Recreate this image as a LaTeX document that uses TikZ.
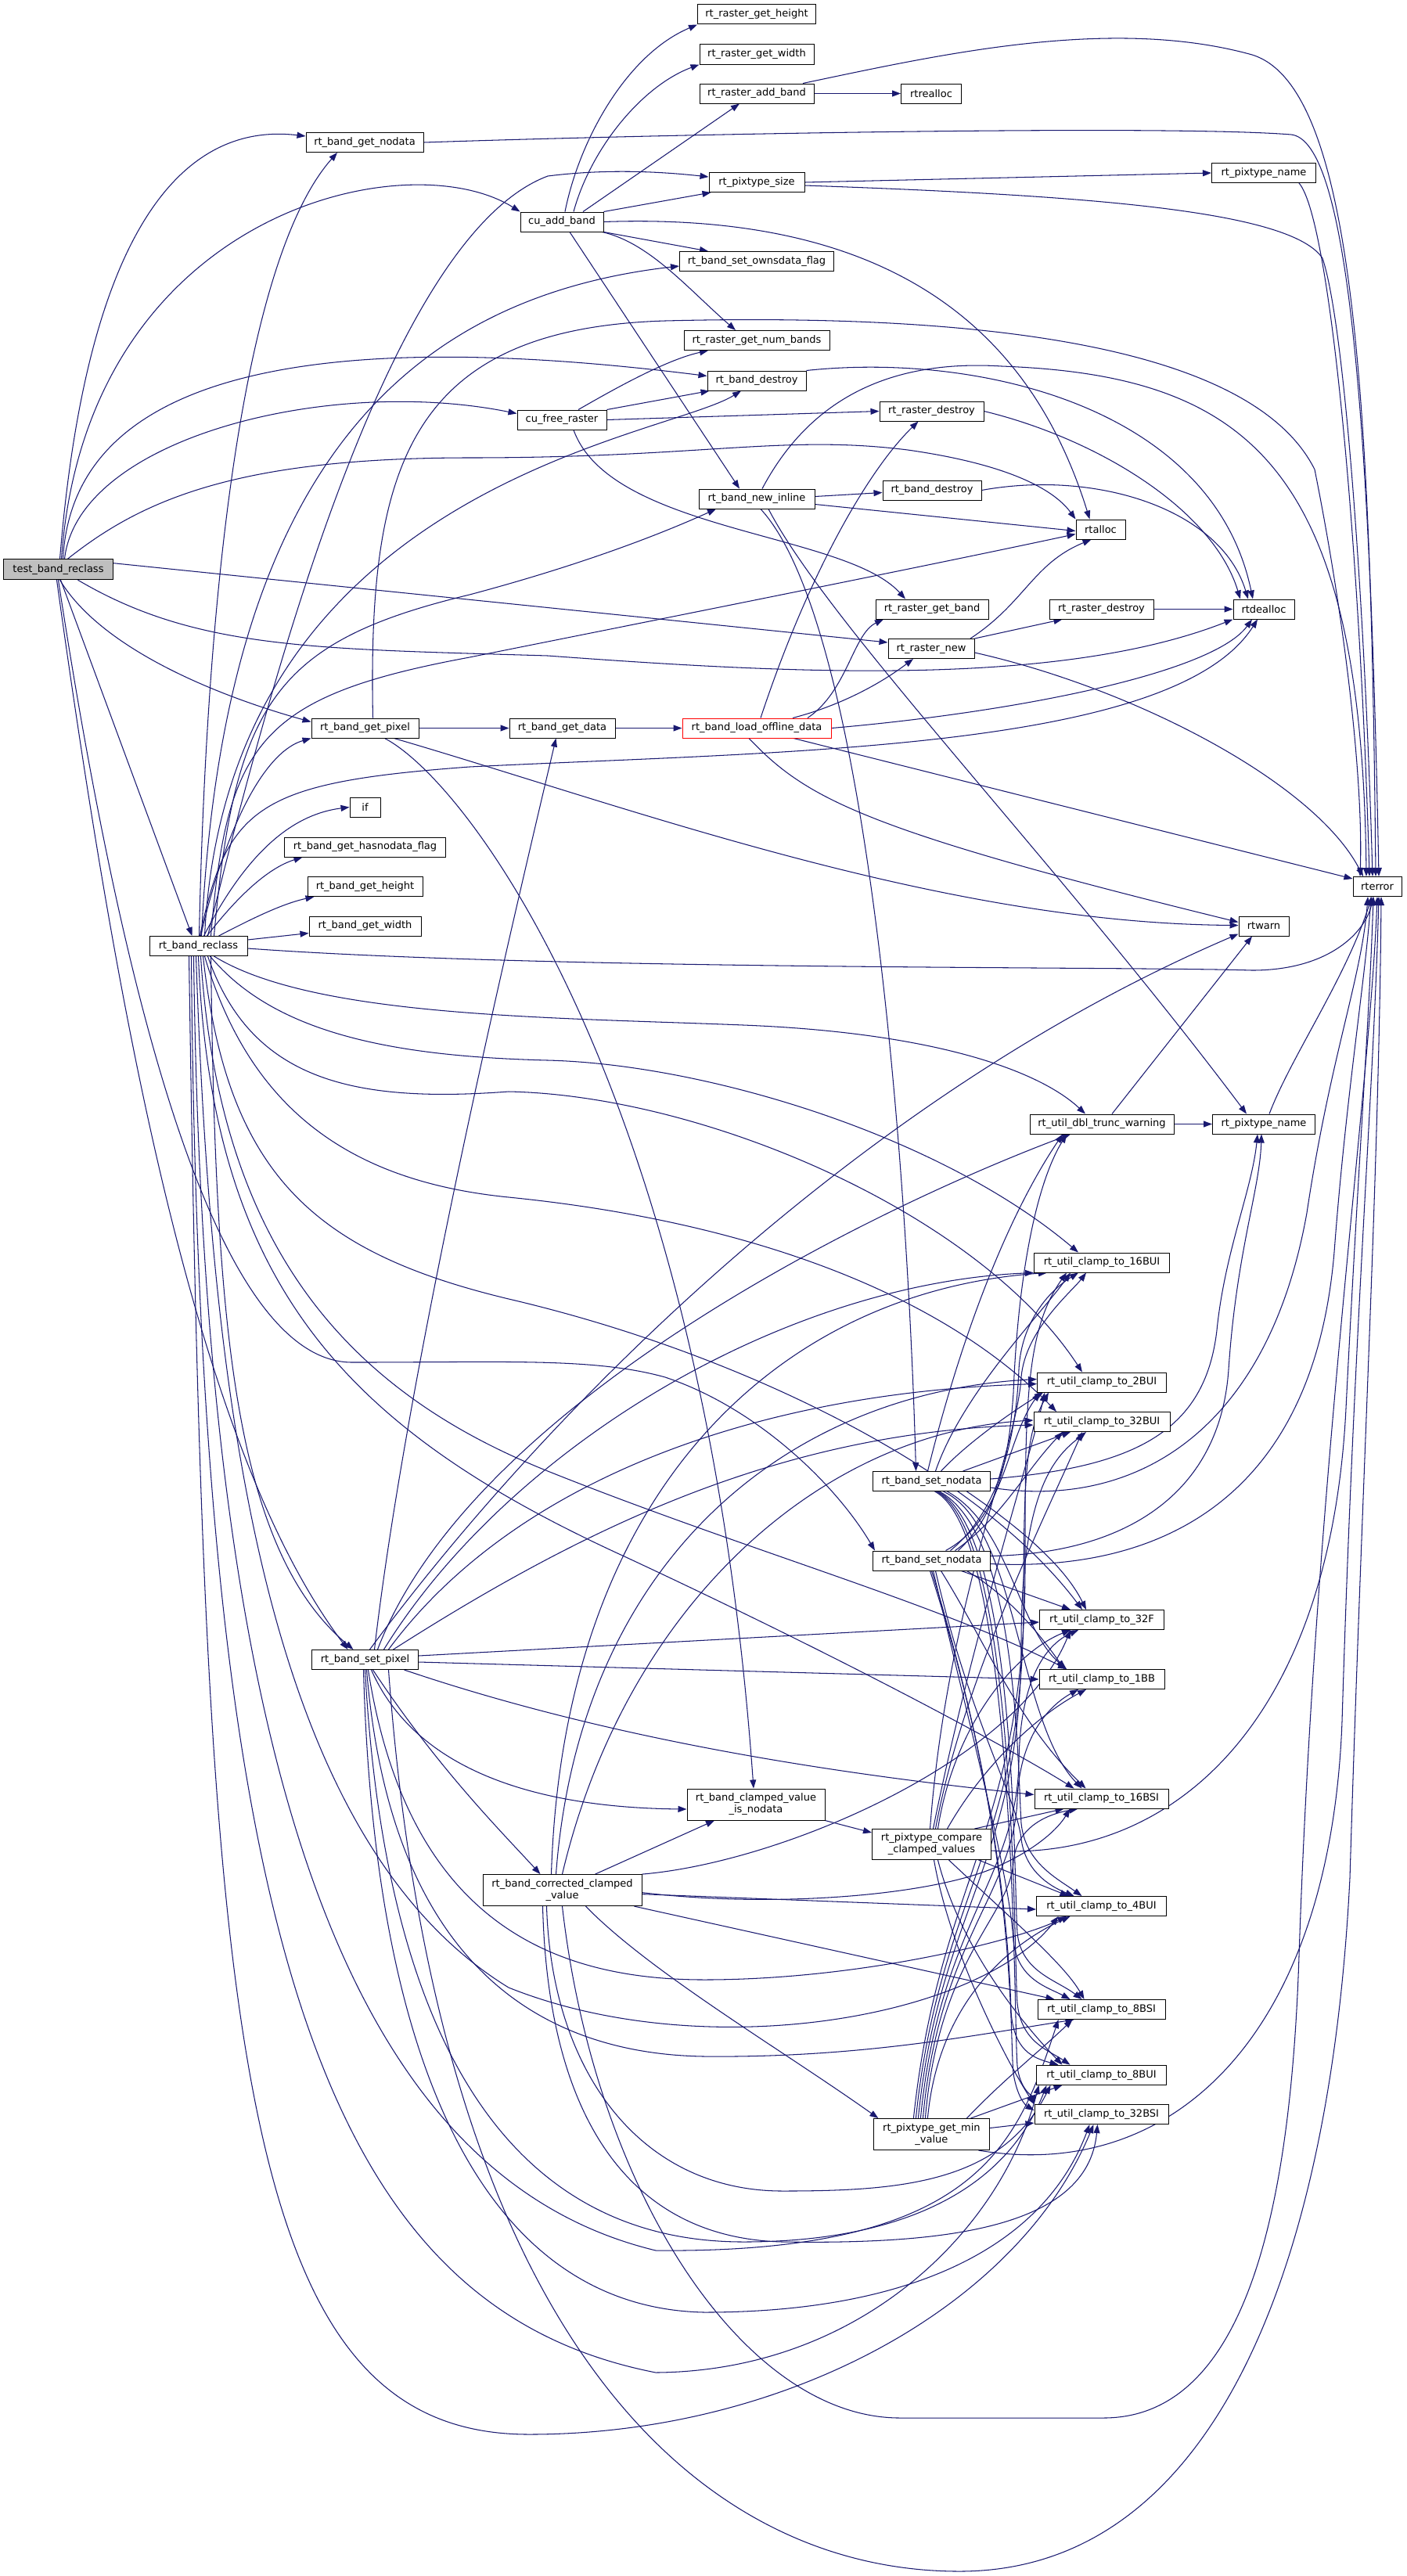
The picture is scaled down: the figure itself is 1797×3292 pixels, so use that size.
\documentclass[tikz,border=0pt]{standalone}
\usepackage{fontspec}
\setmainfont{DejaVu Sans}
\usetikzlibrary{arrows.meta,backgrounds}
\pgfdeclarelayer{bottom}
\pgfsetlayers{bottom,background,main}
\definecolor{edgec}{RGB}{25,25,112}
\definecolor{tgray}{RGB}{191,191,191}
\begin{document}
\begin{tikzpicture}[x=1pt,y=-1pt,
  nd/.style={draw=black, line width=1pt, fill=white, inner sep=0pt, minimum height=25pt,
    font=\fontsize{13pt}{15pt}\selectfont, align=center},
  nd2/.style={nd, minimum height=40pt},
  e/.style={draw=edgec, line width=1.05pt, -{Triangle[length=11pt,width=8pt]}}]
\useasboundingbox (0,0) rectangle (1797,3292);
\begin{pgfonlayer}{bottom}
\fill[white] (0,0) rectangle (1797,3292);
\end{pgfonlayer}
% ---------------- nodes ----------------
\node[nd, minimum width=151pt] (rgh) at (967,18.5) {rt\_raster\_get\_height};
\node[nd, minimum width=146pt] (rgw) at (967,69.5) {rt\_raster\_get\_width};
\node[nd, minimum width=146pt] (rab) at (967,119.5) {rt\_raster\_add\_band};
\node[nd, minimum width=77pt] (rtrealloc) at (1190,119.5) {rtrealloc};
\node[nd, minimum width=150pt] (rbgn) at (466,182) {rt\_band\_get\_nodata};
\node[nd, minimum width=122pt] (rps) at (967,233) {rt\_pixtype\_size};
\node[nd, minimum width=133pt] (rpnA) at (1615,221) {rt\_pixtype\_name};
\node[nd, minimum width=106pt] (cab) at (718,283.5) {cu\_add\_band};
\node[nd, minimum width=197pt] (rbso) at (967,334) {rt\_band\_set\_ownsdata\_flag};
\node[nd, minimum width=186pt] (rgnb) at (967,435) {rt\_raster\_get\_num\_bands};
\node[nd, minimum width=126pt] (rbdA) at (967,486.5) {rt\_band\_destroy};
\node[nd, minimum width=114pt] (cfr) at (718,536.5) {cu\_free\_raster};
\node[nd, minimum width=133pt] (rrdA) at (1190.5,525.5) {rt\_raster\_destroy};
\node[nd, minimum width=148pt] (rbni) at (967,637.5) {rt\_band\_new\_inline};
\node[nd, minimum width=126pt] (rbdB) at (1191,626.5) {rt\_band\_destroy};
\node[nd, minimum width=63pt] (rtalloc) at (1406.5,676.5) {rtalloc};
\node[nd, minimum width=140pt, minimum height=26pt, fill=tgray] (T) at (74.5,727.7) {test\_band\_reclass};
\node[nd, minimum width=144pt] (rrgb) at (1191,778.5) {rt\_raster\_get\_band};
\node[nd, minimum width=133pt] (rrdB) at (1407.5,778.5) {rt\_raster\_destroy};
\node[nd, minimum width=78pt] (rtdealloc) at (1615,778.5) {rtdealloc};
\node[nd, minimum width=110pt] (rrn) at (1190,829) {rt\_raster\_new};
\node[nd, minimum width=137pt] (rbgp) at (466.5,930.5) {rt\_band\_get\_pixel};
\node[nd, minimum width=135pt] (rbgd) at (718.5,930.5) {rt\_band\_get\_data};
\node[nd, minimum width=190pt, draw=red] (rblod) at (967,930.5) {rt\_band\_load\_offline\_data};
\node[nd, minimum width=39pt] (iff) at (466.5,1031.5) {if};
\node[nd, minimum width=206pt] (rbhf) at (466.5,1082.5) {rt\_band\_get\_hasnodata\_flag};
\node[nd, minimum width=147pt] (rbgh) at (466.5,1133) {rt\_band\_get\_height};
\node[nd, minimum width=143pt] (rbgw) at (466.5,1183.5) {rt\_band\_get\_width};
\node[nd, minimum width=125pt] (rbr) at (253.5,1209) {rt\_band\_reclass};
\node[nd, minimum width=62pt] (rterror) at (1760,1133) {rterror};
\node[nd, minimum width=64pt] (rtwarn) at (1615,1183.5) {rtwarn};
\node[nd, minimum width=184pt] (rudtw) at (1408,1436.5) {rt\_util\_dbl\_trunc\_warning};
\node[nd, minimum width=131pt] (rpnB) at (1615,1436.5) {rt\_pixtype\_name};
\node[nd, minimum width=173pt] (c16BUI) at (1408,1613.5) {rt\_util\_clamp\_to\_16BUI};
\node[nd, minimum width=165pt] (c2BUI) at (1408,1766.5) {rt\_util\_clamp\_to\_2BUI};
\node[nd, minimum width=174pt] (c32BUI) at (1408,1817) {rt\_util\_clamp\_to\_32BUI};
\node[nd, minimum width=150pt] (rbsnA) at (1190.5,1893) {rt\_band\_set\_nodata};
\node[nd, minimum width=150pt] (rbsnB) at (1190.5,1994.5) {rt\_band\_set\_nodata};
\node[nd, minimum width=159pt] (c32F) at (1408,2070) {rt\_util\_clamp\_to\_32F};
\node[nd, minimum width=160pt] (c1BB) at (1408,2146) {rt\_util\_clamp\_to\_1BB};
\node[nd, minimum width=136pt] (rbsp) at (466.5,2121) {rt\_band\_set\_pixel};
\node[nd, minimum width=171pt] (c16BSI) at (1407.5,2298.5) {rt\_util\_clamp\_to\_16BSI};
\node[nd2, minimum width=176pt] (rbcvn) at (966,2306) {rt\_band\_clamped\_value\\\_is\_nodata};
\node[nd2, minimum width=152pt, minimum height=39pt] (rpcc) at (1190.5,2357) {rt\_pixtype\_compare\\\_clamped\_values};
\node[nd2, minimum width=203pt] (rbccv) at (718.5,2415.6) {rt\_band\_corrected\_clamped\\\_value};
\node[nd, minimum width=166pt] (c4BUI) at (1407.5,2436) {rt\_util\_clamp\_to\_4BUI};
\node[nd, minimum width=163pt] (c8BSI) at (1407.5,2568) {rt\_util\_clamp\_to\_8BSI};
\node[nd, minimum width=166pt] (c8BUI) at (1407.5,2651.7) {rt\_util\_clamp\_to\_8BUI};
\node[nd, minimum width=171pt] (c32BSI) at (1407.5,2702) {rt\_util\_clamp\_to\_32BSI};
\node[nd2, minimum width=148pt] (rpgmv) at (1190.4,2727.5) {rt\_pixtype\_get\_min\\\_value};
% ---------------- edges ----------------
\begin{pgfonlayer}{background}
% test_band_reclass
\draw[e] ([xshift=2pt]T.north) .. controls (110,300) and (230,155) .. ([yshift=8pt]rbgn.west);
\draw[e] ([xshift=4pt]T.north) .. controls (110,270) and (520,180) .. (cab.north west);
\draw[e] ([xshift=6pt]T.north) .. controls (95,440) and (500,430) .. ([yshift=6pt]rbdA.west);
\draw[e] ([xshift=8pt]T.north) .. controls (100,560) and (420,480) .. ([yshift=8pt]cfr.west);
\draw[e] ([xshift=12pt]T.north) .. controls (180,640) and (300,585) .. (600,585) .. controls (900,585) and (1000,555) .. (1160,575) .. controls (1300,595) and (1350,630) .. (rtalloc.north west);
\draw[e] ([yshift=8pt]T.east) -- ([yshift=8pt]rrn.west);
\draw[e] ([xshift=25pt]T.south) .. controls (250,830) and (400,829) .. (700,838) .. controls (1000,860) and (1350,880) .. (rtdealloc.south west);
\draw[e] ([xshift=2pt]T.south) .. controls (130,830) and (280,890) .. ([yshift=8pt]rbgp.west);
\draw[e] ([xshift=3pt]T.south) -- ([xshift=-8pt]rbr.north);
\draw[e] ([xshift=-2pt]T.south) .. controls (150,1300) and (250,1850) .. ([xshift=-22pt]rbsp.north);
\draw[e] (T.south) .. controls (160,1300) and (280,1741) .. (450,1741) .. controls (650,1741) and (760,1735) .. (850,1760) .. controls (970,1800) and (1070,1900) .. ([xshift=3pt]rbsnB.north west);
% cu_add_band
\draw[e] ([xshift=4pt]cab.north) .. controls (740,180) and (800,70) .. (rgh.south west);
\draw[e] ([xshift=15pt]cab.north) .. controls (755,190) and (820,110) .. (rgw.south west);
\draw[e] ([xshift=27pt]cab.north) -- ([xshift=-22pt]rab.south);
\draw[e] (cab.north east) -- ([xshift=3pt]rps.south west);
\draw[e] (cab.east) .. controls (1150,270) and (1320,430) .. ([xshift=-14pt]rtalloc.north);
\draw[e] (cab.south east) -- ([xshift=-62pt]rbso.north);
\draw[e] ([xshift=-2pt]cab.south east) .. controls (830,310) and (880,370) .. ([xshift=-27pt]rgnb.north);
\draw[e] ([xshift=10pt]cab.south) -- ([xshift=-22pt]rbni.north);
\draw[e] (rab.east) -- (rtrealloc.west);
\draw[e] ([xshift=59pt]rab.north) .. controls (1200,70) and (1420,20) .. (1600,70) .. controls (1730,110) and (1752,500) .. ([xshift=-2pt]rterror.north);
\draw[e] (rbgn.east) .. controls (900,170) and (1500,160) .. (1650,172) .. controls (1720,180) and (1750,500) .. ([xshift=2pt]rterror.north);
\draw[e] (rps.east) -- (rpnA.west);
\draw[e] ([yshift=-4pt]rps.east) .. controls (1400,250) and (1650,270) .. (1690,330) .. controls (1720,420) and (1745,800) .. ([xshift=-6pt]rterror.north);
\draw[e] ([xshift=45pt]rpnA.south) .. controls (1700,280) and (1738,700) .. ([xshift=-10pt]rterror.north);
% cu_free_raster
\draw[e] ([xshift=21pt]cfr.north) .. controls (780,500) and (850,460) .. ([xshift=-62pt]rgnb.south);
\draw[e] (cfr.north east) -- ([xshift=3pt]rbdA.south west);
\draw[e] (cfr.east) -- (rrdA.west);
\draw[e] ([xshift=15pt]cfr.south) .. controls (780,680) and (1080,680) .. ([xshift=-34pt]rrgb.north);
% destroys
\draw[e] (rbdA.north east) .. controls (1250,450) and (1550,520) .. ([xshift=-14pt]rtdealloc.north);
\draw[e] (rbdB.east) .. controls (1400,600) and (1560,650) .. ([xshift=-20pt]rtdealloc.north);
\draw[e] (rrdA.east) .. controls (1400,560) and (1550,650) .. ([xshift=-30pt]rtdealloc.north);
\draw[e] (rrdB.east) -- (rtdealloc.west);
% rt_band_new_inline
\draw[e] ([xshift=7pt]rbni.north) .. controls (1040,500) and (1150,460) .. (1280,468) .. controls (1600,480) and (1740,600) .. ([xshift=-14pt]rterror.north);
\draw[e] ([yshift=3pt]rbni.east) -- ([yshift=-3pt]rbdB.west);
\draw[e] ([yshift=-7pt]rbni.east) -- ([yshift=-2pt]rtalloc.west);
\draw[e] ([xshift=15pt]rbni.south) .. controls (1060,800) and (1350,1100) .. ([xshift=-22pt]rpnB.north);
\draw[e] ([xshift=5pt]rbni.south) .. controls (1110,800) and (1160,1500) .. ([xshift=-20pt]rbsnA.north);
% rt_raster_new
\draw[e] ([xshift=50pt]rrn.north) .. controls (1310,770) and (1320,720) .. ([xshift=-12pt]rtalloc.south);
\draw[e] (rrn.north east) -- ([xshift=-50pt]rrdB.south);
\draw[e] ([yshift=-5pt]rrn.east) .. controls (1450,880) and (1680,1000) .. ([xshift=-18pt]rterror.north);
% rt_band_get_pixel, get_data, load_offline
\draw[e] (rbgp.east) -- (rbgd.west);
\draw[e] (rbgd.east) -- (rblod.west);
\draw[e] ([xshift=37pt]rbgp.south) .. controls (800,1030) and (1200,1180) .. ([yshift=1pt]rtwarn.west);
\draw[e] ([xshift=10pt]rbgp.north) .. controls (470,600) and (520,420) .. (850,410) .. controls (1250,400) and (1600,440) .. (1680,600) .. controls (1720,800) and (1742,1000) .. ([xshift=-22pt]rterror.north);
\draw[e] ([xshift=25pt]rbgp.south) .. controls (600,1000) and (900,1400) .. ([xshift=-3pt]rbcvn.north);
\draw[e] ([xshift=5pt]rblod.north) .. controls (1033,733) and (1110,600) .. ([xshift=-17pt]rrdA.south);
\draw[e] ([xshift=65pt]rblod.north) .. controls (1083,883) and (1090,810) .. ([xshift=-62pt]rrgb.south);
\draw[e] ([xshift=46pt]rblod.north) .. controls (1080,900) and (1130,870) .. ([xshift=-23pt]rrn.south);
\draw[e] (rblod.east) .. controls (1300,910) and (1550,860) .. ([xshift=-15pt]rtdealloc.south);
\draw[e] ([xshift=47pt]rblod.south) -- ([yshift=10pt]rterror.west);
\draw[e] ([xshift=-10pt]rblod.south) .. controls (1030,1020) and (1100,1060) .. ([yshift=5pt]rtwarn.west);
% rt_band_reclass (upwards)
\draw[e] ([xshift=1pt]rbr.north) .. controls (265,700) and (320,320) .. ([xshift=-35pt]rbgn.south);
\draw[e] ([xshift=4pt]rbr.north) .. controls (285,600) and (520,380) .. ([yshift=-6pt]rbso.west);
\draw[e] ([xshift=8pt]rbr.north) .. controls (290,620) and (850,560) .. ([xshift=-20pt]rbdA.south);
\draw[e] ([xshift=12pt]rbr.north) .. controls (350,850) and (500,300) .. (700,225) .. controls (780,215) and (850,220) .. ([yshift=7pt]rps.west);
\draw[e] ([xshift=16pt]rbr.north) .. controls (290,950) and (330,890) .. (600,840) .. controls (900,780) and (1200,720) .. ([yshift=-6pt]rtalloc.west);
\draw[e] ([xshift=20pt]rbr.north) .. controls (300,900) and (350,820) .. (600,760) .. controls (750,720) and (850,680) .. ([xshift=-52pt]rbni.south);
\draw[e] ([xshift=3pt]rbr.north) .. controls (290,1050) and (340,960) .. (rbgp.south west);
\draw[e] ([xshift=7pt]rbr.north) .. controls (320,1080) and (380,1040) .. (iff.west);
\draw[e] ([xshift=11pt]rbr.north) .. controls (300,1150) and (340,1110) .. ([xshift=-80pt]rbhf.south);
\draw[e] ([xshift=26pt]rbr.north) .. controls (320,1175) and (360,1155) .. ([xshift=-65pt]rbgh.south);
\draw[e] ([yshift=8pt]rbr.east) -- ([yshift=-9pt]rbgw.west);
\draw[e] ([xshift=2pt]rbr.north) .. controls (290,1030) and (330,1000) .. (600,980) .. controls (1000,960) and (1500,960) .. ([xshift=-8pt]rtdealloc.south);
\draw[e] ([yshift=-3pt]rbr.east) .. controls (700,1240) and (1450,1235) .. (1600,1240) .. controls (1700,1240) and (1745,1190) .. ([xshift=-5pt]rterror.south);
% rt_band_reclass (right / down)
\draw[e] ([xshift=20pt]rbr.south) .. controls (400,1300) and (700,1300) .. (950,1310) .. controls (1200,1320) and (1330,1370) .. ([xshift=-21pt]rudtw.north);
\draw[e] ([xshift=15pt]rbr.south) .. controls (350,1320) and (500,1350) .. (700,1355) .. controls (900,1360) and (1200,1450) .. ([xshift=-30pt]c16BUI.north);
\draw[e] ([xshift=12pt]rbr.south) .. controls (320,1380) and (450,1410) .. (650,1395) .. controls (900,1400) and (1250,1550) .. ([xshift=-25pt]c2BUI.north);
\draw[e] ([xshift=8pt]rbr.south) .. controls (320,1420) and (450,1510) .. (650,1530) .. controls (950,1560) and (1200,1650) .. ([xshift=-58pt]c32BUI.north);
\draw[e] ([xshift=6pt]rbr.south) .. controls (290,1500) and (400,1600) .. (650,1660) .. controls (950,1730) and (1250,1880) .. ([xshift=-25pt]c32F.north);
\draw[e] ([xshift=3pt]rbr.south) .. controls (280,1600) and (450,1780) .. (700,1880) .. controls (950,1980) and (1200,2050) .. ([xshift=-45pt]c1BB.north);
\draw[e] (rbr.south) .. controls (270,1650) and (450,1830) .. (800,1990) .. controls (1100,2130) and (1300,2240) .. ([xshift=-35pt]c16BSI.north);
\draw[e] ([xshift=16pt]rbr.south) .. controls (275,1700) and (300,1980) .. ([xshift=-15pt]rbsp.north);
\draw[e] ([xshift=-3pt]rbr.south) .. controls (270,1800) and (340,2350) .. (650,2540) .. controls (900,2640) and (1250,2580) .. ([xshift=-55pt]c4BUI.south);
\draw[e] ([xshift=-6pt]rbr.south) .. controls (260,2250) and (440,2780) .. (838,2876) .. controls (1250,2880) and (1300,2740) .. ([xshift=-55pt]c8BSI.south);
\draw[e] ([xshift=-9pt]rbr.south) .. controls (255,2500) and (420,2950) .. (838,3032) .. controls (1100,3030) and (1280,2850) .. ([xshift=-80pt]c8BUI.south);
\draw[e] ([xshift=-12pt]rbr.south) .. controls (262,2600) and (300,3111) .. (676,3111) .. controls (1000,3111) and (1300,2950) .. ([xshift=-10pt]c32BSI.south);
% rt_band_set_pixel
\draw[e] ([yshift=5pt]rbsp.east) -- ([yshift=-3pt]c32F.west);
\draw[e] ([yshift=-3pt]rbsp.east) -- (c1BB.west);
\draw[e] ([xshift=50pt]rbsp.south) .. controls (800,2230) and (1100,2270) .. ([yshift=5pt]c16BSI.west);
\draw[e] ([xshift=8pt]rbsp.south) .. controls (530,2260) and (680,2310) .. ([yshift=-6pt]rbcvn.west);
\draw[e] ([xshift=10pt]rbsp.south) .. controls (560,2260) and (640,2340) .. ([xshift=-28pt]rbccv.north);
\draw[e] ([xshift=12pt]rbsp.north) .. controls (520,1750) and (650,1200) .. ([xshift=-8pt]rbgd.south);
\draw[e] ([xshift=6pt]rbsp.north) .. controls (700,1800) and (1100,1400) .. ([yshift=3pt]rtwarn.south west);
\draw[e] ([xshift=16pt]rbsp.north) .. controls (600,1800) and (1100,1550) .. ([xshift=-40pt]rudtw.south);
\draw[e] ([xshift=24pt]rbsp.north) .. controls (650,1850) and (1000,1640) .. (c16BUI.south west);
\draw[e] ([xshift=30pt]rbsp.north) .. controls (650,1900) and (950,1780) .. ([yshift=-2pt]c2BUI.west);
\draw[e] ([xshift=36pt]rbsp.north) .. controls (750,1950) and (1000,1830) .. ([yshift=-4pt]c32BUI.west);
\draw[e] ([xshift=4pt]rbsp.south) .. controls (520,2450) and (700,2530) .. (900,2530) .. controls (1100,2530) and (1300,2480) .. ([xshift=-45pt]c4BUI.south);
\draw[e] ([xshift=2pt]rbsp.south) .. controls (500,2520) and (700,2625) .. (900,2628) .. controls (1100,2630) and (1250,2600) .. ([xshift=-35pt]c8BSI.south);
\draw[e] (rbsp.south) .. controls (500,2750) and (750,2865) .. (950,2865) .. controls (1150,2865) and (1285,2800) .. ([xshift=-70pt]c8BUI.south);
\draw[e] ([xshift=-2pt]rbsp.south) .. controls (480,2700) and (650,2950) .. (900,2955) .. controls (1150,2955) and (1330,2880) .. ([xshift=-15pt]c32BSI.south);
\draw[e] ([xshift=30pt]rbsp.south) .. controls (560,3000) and (900,3286) .. (1226,3286) .. controls (1550,3286) and (1700,2900) .. (1725,2400) .. controls (1740,1900) and (1762,1500) .. ([xshift=5pt]rterror.south);
% rt_band_corrected_clamped_value
\draw[e] ([xshift=42pt]rbccv.north) -- ([xshift=-53pt]rbcvn.south);
\draw[e] ([xshift=30pt]rbccv.south) .. controls (830,2520) and (1000,2620) .. ([xshift=-68pt]rpgmv.north);
\draw[e] ([xshift=-8pt]rbccv.north) .. controls (740,2000) and (1000,1780) .. ([yshift=4pt]c2BUI.west);
\draw[e] (rbccv.north) .. controls (800,2050) and (1050,1830) .. ([yshift=2pt]c32BUI.west);
\draw[e] ([xshift=-14pt]rbccv.north) .. controls (720,1900) and (1000,1650) .. ([xshift=-70pt]c16BUI.south);
\draw[e] (rbccv.north east) .. controls (1000,2380) and (1300,2250) .. ([xshift=-40pt]c32F.south);
\draw[e] ([yshift=-3pt]rbccv.east) .. controls (1000,2440) and (1200,2420) .. (1275,2385) .. controls (1320,2365) and (1350,2340) .. ([xshift=-40pt]c16BSI.south);
\draw[e] ([yshift=-5pt]rbccv.east) -- ([yshift=-4pt]c4BUI.west);
\draw[e] ([xshift=-10pt]rbccv.south east) -- ([xshift=-60pt]c8BSI.north);
\draw[e] ([xshift=-20pt]rbccv.south) .. controls (705,2650) and (820,2800) .. (1000,2800) .. controls (1150,2800) and (1280,2790) .. ([xshift=-65pt]c8BUI.south);
\draw[e] ([xshift=-25pt]rbccv.south) .. controls (700,2700) and (800,2860) .. (1000,2865) .. controls (1200,2868) and (1390,2850) .. ([xshift=-5pt]c32BSI.south);
\draw[e] (rbccv.south) .. controls (760,2800) and (950,3090) .. (1150,3090) -- (1410,3090) .. controls (1600,3090) and (1650,2800) .. (1660,2500) .. controls (1680,1900) and (1750,1400) .. (rterror.south);
% clamped_value_is_nodata
\draw[e] (rbcvn.south east) -- ([yshift=15pt]rpcc.west);
% rt_pixtype_compare_clamped_values
\draw[e] ([xshift=55pt]rpcc.north) -- ([xshift=-48pt]c16BSI.south);
\draw[e] ([xshift=20pt]rpcc.north) .. controls (1260,2250) and (1330,2190) .. ([xshift=-20pt]c1BB.south);
\draw[e] ([xshift=8pt]rpcc.north) .. controls (1220,2200) and (1300,2110) .. ([xshift=-40pt]c32F.south);
\draw[e] ([xshift=5pt]rpcc.north) .. controls (1230,2150) and (1330,1950) .. ([xshift=-25pt]c32BUI.south);
\draw[e] ([xshift=2pt]rpcc.north) .. controls (1240,2100) and (1320,1850) .. ([xshift=10pt]c2BUI.south west);
\draw[e] ([xshift=-2pt]rpcc.north) .. controls (1210,2050) and (1300,1850) .. (1305,1760) .. controls (1310,1700) and (1370,1650) .. ([xshift=-20pt]c16BUI.south);
\draw[e] ([xshift=60pt]rpcc.south) -- ([xshift=-42pt]c4BUI.north);
\draw[e] ([xshift=22pt]rpcc.south) .. controls (1290,2450) and (1360,2510) .. ([xshift=-22pt]c8BSI.north);
\draw[e] ([xshift=8pt]rpcc.south) .. controls (1230,2500) and (1320,2600) .. ([xshift=-50pt]c8BUI.north);
\draw[e] ([xshift=3pt]rpcc.south) .. controls (1215,2500) and (1290,2640) .. (c32BSI.north west);
\draw[e] ([yshift=-8pt]rpcc.east) .. controls (1500,2380) and (1700,2200) .. (1720,1800) .. controls (1735,1500) and (1750,1300) .. ([xshift=-5pt]rterror.south);
% rt_pixtype_get_min_value
\draw[e] ([yshift=8pt]rpgmv.east) -- ([yshift=-11pt]c32BSI.west);
\draw[e] ([xshift=50pt]rpgmv.north) -- ([xshift=-50pt]c8BUI.south);
\draw[e] ([xshift=45pt]rpgmv.north) .. controls (1280,2660) and (1330,2620) .. ([xshift=-37pt]c8BSI.south);
\draw[e] ([xshift=-5pt]rpgmv.north) .. controls (1200,2550) and (1300,2480) .. ([xshift=-40pt]c4BUI.south);
\draw[e] ([xshift=-8pt]rpgmv.north) .. controls (1200,2500) and (1290,2450) .. (1295,2380) .. controls (1298,2340) and (1330,2320) .. ([xshift=-30pt]c16BSI.south);
\draw[e] ([xshift=-11pt]rpgmv.north) .. controls (1200,2480) and (1295,2420) .. (1300,2300) .. controls (1303,2220) and (1340,2180) .. ([xshift=-30pt]c1BB.south);
\draw[e] ([xshift=-14pt]rpgmv.north) .. controls (1200,2460) and (1300,2400) .. (1302,2250) .. controls (1304,2140) and (1340,2100) .. ([xshift=-30pt]c32F.south);
\draw[e] ([xshift=-17pt]rpgmv.north) .. controls (1200,2440) and (1305,2380) .. (1305,2100) .. controls (1305,1900) and (1350,1860) .. ([xshift=-20pt]c32BUI.south);
\draw[e] ([xshift=-20pt]rpgmv.north) .. controls (1200,2420) and (1308,2360) .. (1308,2050) .. controls (1308,1880) and (1312,1830) .. ([xshift=15pt]c2BUI.south west);
\draw[e] ([xshift=-23pt]rpgmv.north) .. controls (1200,2400) and (1310,2340) .. (1310,2000) .. controls (1310,1800) and (1310,1700) .. ([xshift=-45pt]c16BUI.south);
\draw[e] ([xshift=60pt]rpgmv.south) .. controls (1500,2790) and (1700,2600) .. (1715,2200) .. controls (1730,1700) and (1755,1400) .. ([xshift=2pt]rterror.south);
% rt_band_set_nodata (A)
\draw[e] ([xshift=5pt]rbsnA.north) .. controls (1230,1780) and (1330,1680) .. ([xshift=-40pt]c16BUI.south);
\draw[e] ([xshift=12pt]rbsnA.north) .. controls (1240,1840) and (1300,1800) .. ([xshift=8pt]c2BUI.south west);
\draw[e] ([xshift=40pt]rbsnA.north) -- ([xshift=-40pt]c32BUI.south);
\draw[e] ([xshift=-5pt]rbsnA.north) .. controls (1230,1700) and (1290,1550) .. ([xshift=-50pt]rudtw.south);
\draw[e] ([yshift=3pt]rbsnA.east) .. controls (1450,1875) and (1540,1830) .. (1555,1700) .. controls (1565,1600) and (1600,1520) .. ([xshift=-8pt]rpnB.south);
\draw[e] ([yshift=-8pt]rbsnA.east) .. controls (1450,1930) and (1620,1830) .. (1670,1550) .. controls (1700,1350) and (1740,1250) .. ([xshift=-12pt]rterror.south);
\draw[e] ([xshift=45pt]rbsnA.south) .. controls (1300,1950) and (1360,2000) .. ([xshift=-20pt]c32F.north);
\draw[e] ([xshift=20pt]rbsnA.south) .. controls (1290,1950) and (1300,2080) .. ([xshift=-45pt]c1BB.north);
\draw[e] ([xshift=15pt]rbsnA.south) .. controls (1300,1950) and (1300,2200) .. ([xshift=-25pt]c16BSI.north);
\draw[e] ([xshift=10pt]rbsnA.south) .. controls (1300,1960) and (1300,2250) .. (1305,2330) .. controls (1310,2380) and (1350,2400) .. ([xshift=-25pt]c4BUI.north);
\draw[e] ([xshift=8pt]rbsnA.south) .. controls (1300,1960) and (1295,2400) .. (1300,2470) .. controls (1305,2520) and (1350,2530) .. ([xshift=-25pt]c8BSI.north);
\draw[e] ([xshift=6pt]rbsnA.south) .. controls (1300,1960) and (1295,2500) .. (1300,2560) .. controls (1305,2610) and (1340,2620) .. ([xshift=-40pt]c8BUI.north);
\draw[e] ([xshift=4pt]rbsnA.south) .. controls (1300,1960) and (1295,2580) .. (1300,2640) .. controls (1303,2670) and (1320,2680) .. (c32BSI.north west);
% rt_band_set_nodata (B)
\draw[e] ([xshift=18pt]rbsnB.north) .. controls (1285,1940) and (1285,1840) .. ([xshift=4pt]c2BUI.south west);
\draw[e] ([xshift=30pt]rbsnB.north) .. controls (1280,1940) and (1310,1880) .. ([xshift=-50pt]c32BUI.south);
\draw[e] ([xshift=24pt]rbsnB.north) .. controls (1290,1920) and (1300,1800) .. (1302,1750) .. controls (1305,1690) and (1340,1650) .. ([xshift=-30pt]c16BUI.south);
\draw[e] ([xshift=34pt]rbsnB.north) .. controls (1280,1930) and (1290,1850) .. (1295,1780) .. controls (1300,1650) and (1320,1520) .. ([xshift=-45pt]rudtw.south);
\draw[e] ([yshift=6pt]rbsnB.east) .. controls (1450,1985) and (1560,1900) .. (1570,1750) .. controls (1580,1600) and (1610,1520) .. ([xshift=-3pt]rpnB.south);
\draw[e] ([yshift=-4pt]rbsnB.east) .. controls (1500,2010) and (1680,1900) .. (1705,1600) .. controls (1720,1400) and (1745,1250) .. ([xshift=-8pt]rterror.south);
\draw[e] ([xshift=38pt]rbsnB.south) -- ([xshift=-40pt]c32F.north);
\draw[e] ([xshift=45pt]rbsnB.south) .. controls (1290,2040) and (1330,2090) .. ([xshift=-48pt]c1BB.north);
\draw[e] ([xshift=12pt]rbsnB.south) .. controls (1260,2100) and (1300,2200) .. ([xshift=-20pt]c16BSI.north);
\draw[e] ([xshift=5pt]rbsnB.south) .. controls (1240,2200) and (1300,2300) .. (1305,2350) .. controls (1310,2390) and (1340,2410) .. ([xshift=-35pt]c4BUI.north);
\draw[e] ([xshift=2pt]rbsnB.south) .. controls (1250,2250) and (1290,2400) .. (1295,2480) .. controls (1300,2530) and (1340,2540) .. ([xshift=-40pt]c8BSI.north);
\draw[e] (rbsnB.south) .. controls (1280,2300) and (1290,2500) .. (1292,2570) .. controls (1295,2620) and (1320,2630) .. ([xshift=-55pt]c8BUI.north);
\draw[e] ([xshift=-2pt]rbsnB.south) .. controls (1300,2350) and (1290,2600) .. (1295,2650) .. controls (1300,2680) and (1310,2690) .. ([yshift=5pt]c32BSI.west);
% dbl_trunc_warning, pixtype_name
\draw[e] ([xshift=13pt]rudtw.north) -- ([xshift=-15pt]rtwarn.south);
\draw[e] (rudtw.east) -- (rpnB.west);
\draw[e] ([xshift=7pt]rpnB.north) .. controls (1650,1350) and (1720,1250) .. ([xshift=-7pt]rterror.south);
\end{pgfonlayer}
\end{tikzpicture}
\end{document}
